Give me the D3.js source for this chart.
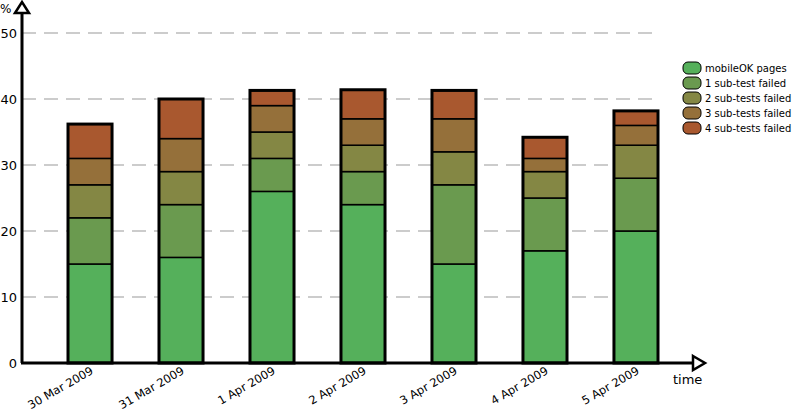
<!DOCTYPE html><html><head><meta charset="utf-8"><script src="https://d3js.org/d3.v7.min.js"></script>
<style>body{margin:0;background:#fff}text{font-family:"DejaVu Sans",sans-serif}</style></head><body><svg id="c" width="795" height="410"></svg>
<script>
const categories=["30 Mar 2009","31 Mar 2009","1 Apr 2009","2 Apr 2009","3 Apr 2009","4 Apr 2009","5 Apr 2009"];
const seriesNames=["mobileOK pages","1 sub-test failed","2 sub-tests failed","3 sub-tests failed","4 sub-tests failed"];
const mobileOK=[15,16,26,24,15,17,20];
const failed1=[7,8,5,5,12,8,8];
const failed2=[5,5,4,4,5,4,5];
const failed3=[4,5,4,4,5,2,3];
const failed4=[5.2,6,2.3,4.4,4.3,3.2,2.2];
const yTicks=[0,10,20,30,40,50];
const colors=["#55b05b","#6a9a4f","#848744","#95703a","#a9582f"];
const series=[mobileOK,failed1,failed2,failed3,failed4];
const svg=d3.select("#c");
const y=d3.scaleLinear().domain([0,50]).range([363,33]);
const x=d3.scaleBand().domain(categories).range([68,658]).paddingInner(0.516).paddingOuter(0);
const x0=22;
svg.selectAll(".g").data(yTicks.slice(1)).join("line").attr("x1",x0).attr("x2",655).attr("y1",d=>y(d)).attr("y2",d=>y(d)).attr("stroke","#999").attr("stroke-width",1.2).attr("stroke-dasharray","14,8");
categories.forEach((c,i)=>{let cum=0;const bx=x(c),bw=x.bandwidth();
 series.forEach((s,k)=>{const v=s[i];svg.append("rect").attr("x",bx).attr("width",bw).attr("y",y(cum+v)).attr("height",y(cum)-y(cum+v)).attr("fill",colors[k]).attr("stroke","#000").attr("stroke-width",1.5);cum+=v;});
 svg.append("rect").attr("x",bx).attr("width",bw).attr("y",y(cum)).attr("height",y(0)-y(cum)).attr("fill","none").attr("stroke","#000").attr("stroke-width",3);
});
svg.append("line").attr("x1",x0).attr("x2",x0).attr("y1",363).attr("y2",12).attr("stroke","#000").attr("stroke-width",3);
svg.append("path").attr("d","M15,13 L22,2 L29,13 Z").attr("fill","#fff").attr("stroke","#000").attr("stroke-width",2.5);
svg.append("line").attr("x1",x0-1).attr("x2",694).attr("y1",363).attr("y2",363).attr("stroke","#000").attr("stroke-width",3);
svg.append("path").attr("d","M693,356 L705,363 L693,370 Z").attr("fill","#fff").attr("stroke","#000").attr("stroke-width",2.5);
svg.selectAll(".yl").data(yTicks).join("text").attr("x",17).attr("y",d=>y(d)+5).attr("text-anchor","end").attr("font-size",13).text(d=>d);
svg.append("text").attr("x",0).attr("y",13).attr("font-size",12).text("%");
svg.append("text").attr("x",673).attr("y",384).attr("font-size",13).text("time");
svg.selectAll(".xl").data(categories).join("text").attr("font-size",11.5).attr("text-anchor","end")
 .attr("transform",d=>`translate(${x(d)+x.bandwidth()/2+4},${373}) rotate(-30)`).text(d=>d);
seriesNames.forEach((n,k)=>{const ly=68+k*15;
 svg.append("rect").attr("x",683).attr("y",ly-6).attr("width",18).attr("height",12).attr("rx",5).attr("fill",colors[k]).attr("stroke","#000").attr("stroke-width",1);
 svg.append("text").attr("x",705).attr("y",ly+4).attr("font-size",10).text(n);});
</script></body></html>
